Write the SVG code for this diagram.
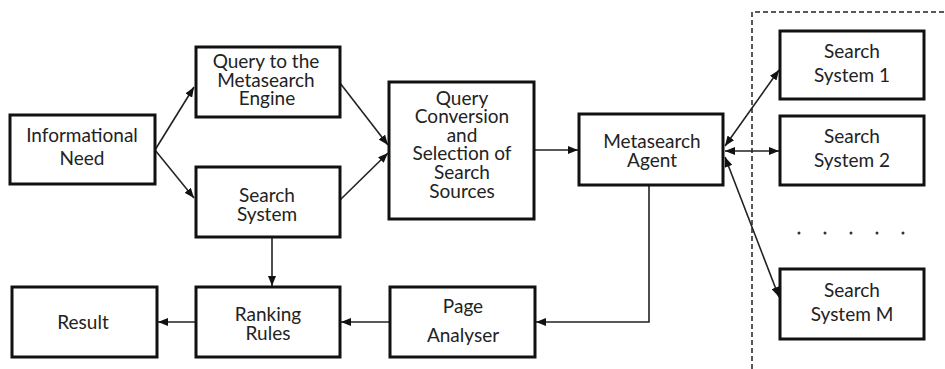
<svg xmlns="http://www.w3.org/2000/svg" width="945" height="369" viewBox="0 0 945 369">
<defs>
<marker id="ah" markerWidth="10" markerHeight="8" refX="10" refY="4" orient="auto" markerUnits="userSpaceOnUse">
<path d="M0,0 L10,4 L0,8 Z" fill="#111"/>
</marker>
<marker id="as" markerWidth="10" markerHeight="8" refX="0" refY="4" orient="auto" markerUnits="userSpaceOnUse">
<path d="M10,0 L0,4 L10,8 Z" fill="#111"/>
</marker>
</defs>
<style>
.box{fill:#fff;stroke:#111;stroke-width:3}
text{font-family:Lato,"Liberation Sans",sans-serif;font-size:19px;fill:#222;text-anchor:middle}
.c{fill:none;stroke:#222;stroke-width:1.6}
.dash{fill:none;stroke:#222;stroke-width:1.5;stroke-dasharray:5 3}
.dot{fill:#333}
</style>
<rect width="945" height="369" fill="#fff"/>
<g id="connectors">
<path class="c" d="M155,150 L194,87" marker-end="url(#ah)"/>
<path class="c" d="M155,150 L194,198" marker-end="url(#ah)"/>
<path class="c" d="M340,83 L388,145" marker-end="url(#ah)"/>
<path class="c" d="M340,200 L388,153" marker-end="url(#ah)"/>
<path class="c" d="M534,150 L578,150" marker-end="url(#ah)"/>
<path class="c" d="M725,146 L779,70" marker-start="url(#as)" marker-end="url(#ah)"/>
<path class="c" d="M725,151 L779,151" marker-start="url(#as)" marker-end="url(#ah)"/>
<path class="c" d="M725,157 L779,297" marker-start="url(#as)" marker-end="url(#ah)"/>
<path class="c" d="M649,185 L649,322 L536,322" marker-end="url(#ah)"/>
<path class="c" d="M390,322 L341,322" marker-end="url(#ah)"/>
<path class="c" d="M196,322 L158,322" marker-end="url(#ah)"/>
<path class="c" d="M272,237 L272,286" marker-end="url(#ah)"/>
</g>
<path class="dash" d="M752,369 L752,12 L945,12"/>
<g id="informational-need">
<rect class="box" x="10" y="115" width="145" height="69"/>
<text x="82" y="142">Informational</text>
<text x="82" y="165">Need</text>
</g>
<g id="query-to-engine">
<rect class="box" x="196" y="47" width="144" height="70"/>
<text x="266" y="68">Query to the</text>
<text x="266" y="87">Metasearch</text>
<text x="267" y="105">Engine</text>
</g>
<g id="search-system">
<rect class="box" x="196" y="167" width="144" height="70"/>
<text x="267" y="202">Search</text>
<text x="267" y="221">System</text>
</g>
<g id="query-conversion">
<rect class="box" x="389" y="82" width="145" height="137"/>
<text x="462" y="105">Query</text>
<text x="462" y="123">Conversion</text>
<text x="462" y="142">and</text>
<text x="462" y="160">Selection  of</text>
<text x="462" y="179">Search</text>
<text x="462" y="198">Sources</text>
</g>
<g id="metasearch-agent">
<rect class="box" x="579" y="114" width="144" height="71"/>
<text x="652" y="148">Metasearch</text>
<text x="652" y="167">Agent</text>
</g>
<g id="search-system-1">
<rect class="box" x="780" y="31" width="144" height="68"/>
<text x="852" y="58">Search</text>
<text x="852" y="82">System 1</text>
</g>
<g id="search-system-2">
<rect class="box" x="780" y="116" width="144" height="69"/>
<text x="852" y="143">Search</text>
<text x="852" y="167">System 2</text>
</g>
<g id="ellipsis">
<circle class="dot" cx="799" cy="233" r="1.5"/>
<circle class="dot" cx="825" cy="233" r="1.5"/>
<circle class="dot" cx="851" cy="233" r="1.5"/>
<circle class="dot" cx="877" cy="233" r="1.5"/>
<circle class="dot" cx="903" cy="233" r="1.5"/>
</g>
<g id="search-system-m">
<rect class="box" x="780" y="269" width="144" height="70"/>
<text x="852" y="297">Search</text>
<text x="852" y="321">System M</text>
</g>
<g id="result">
<rect class="box" x="12" y="287" width="145" height="70"/>
<text x="83" y="329">Result</text>
</g>
<g id="ranking-rules">
<rect class="box" x="196" y="287" width="144" height="70"/>
<text x="268" y="321">Ranking</text>
<text x="268" y="340">Rules</text>
</g>
<g id="page-analyser">
<rect class="box" x="390" y="287" width="145" height="70"/>
<text x="463" y="313">Page</text>
<text x="463" y="342">Analyser</text>
</g>
</svg>
